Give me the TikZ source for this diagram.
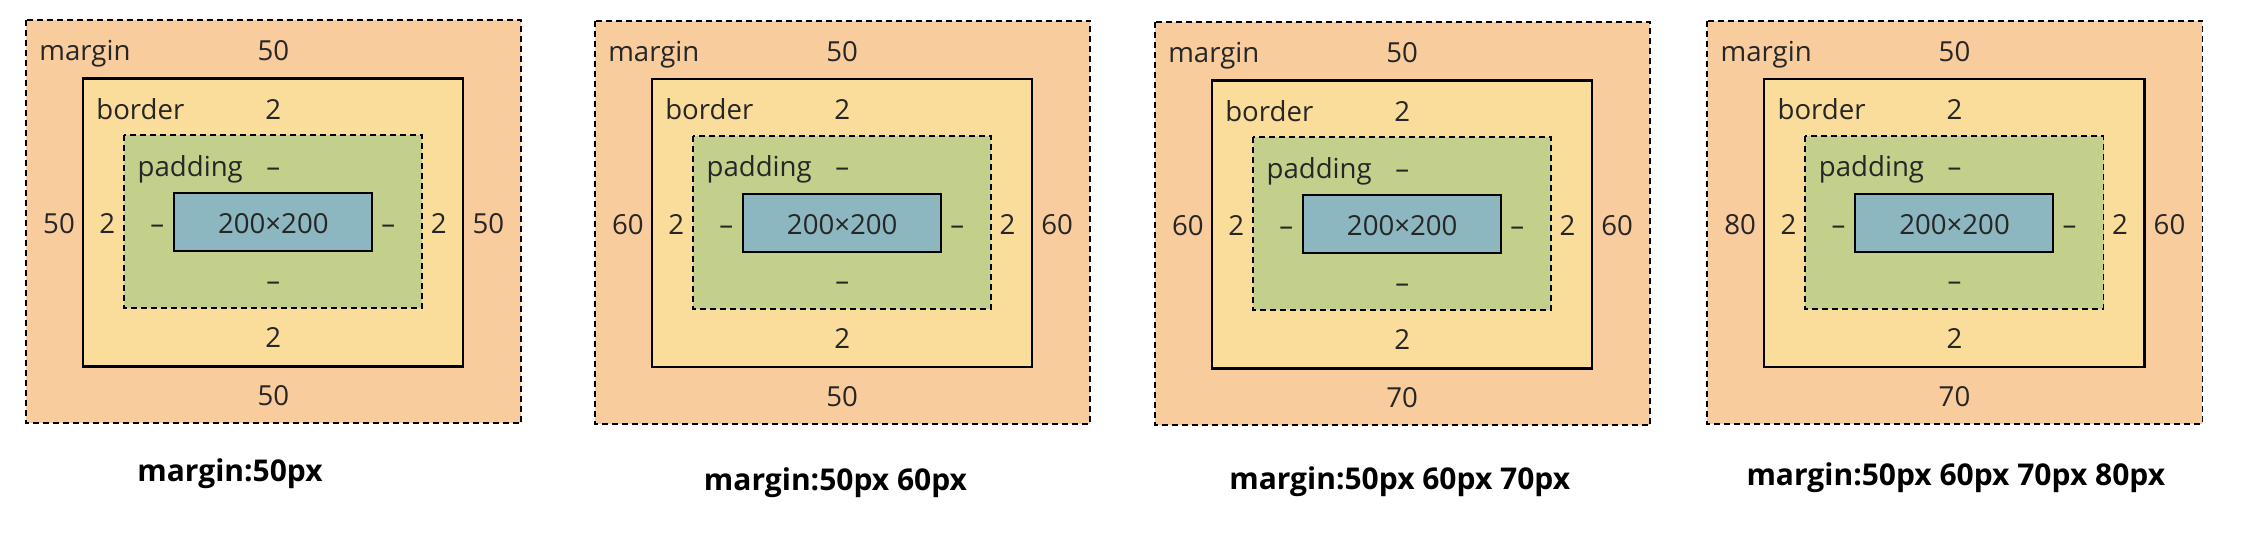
\documentclass[tikz,border=0pt]{standalone}
\usepackage{fontspec}
\setmainfont{Open Sans}
\usetikzlibrary{positioning}
\definecolor{marginfill}{HTML}{F8CC9D}
\definecolor{borderfill}{HTML}{FBDD9B}
\definecolor{paddingfill}{HTML}{C3D08B}
\definecolor{contentfill}{HTML}{8CB6C0}
\tikzset{
  marginbox/.style={fill=marginfill,draw=black,line width=0.9pt,
    dash pattern=on 3pt off 2pt},
  borderbox/.style={fill=borderfill,draw=black,line width=1.1pt},
  paddingbox/.style={fill=paddingfill,draw=black,line width=0.9pt,
    dash pattern=on 3pt off 2pt},
  contentbox/.style={fill=contentfill,draw=black,line width=1.1pt},
  boxlbl/.style={font=\fontsize{13.8}{16}\selectfont,text=black!85,
    inner sep=0pt,anchor=base},
  namelbl/.style={boxlbl,anchor=base west},
  caplbl/.style={font=\fontsize{15}{18}\selectfont\bfseries,inner sep=0pt,
    anchor=base},
}
\begin{document}
\begin{tikzpicture}[x=0.5pt,y=-0.5pt]
  \useasboundingbox (0,0) rectangle (2265,547);
  \foreach \p/\ox/\oy/\ml/\mr/\mb/\cx/\cy/\cap in {
      1/25.7/20/50/50/50/230/481/{margin:50px},
      2/594.6/20.9/60/60/50/835.5/490/{margin:50px 60px},
      3/1154.6/22/60/60/70/1399.7/489.3/{margin:50px 60px 70px},
      4/1706.9/20.9/80/60/70/1955.8/485/{margin:50px 60px 70px 80px}}{
    \begin{scope}[shift={(\ox,\oy)}]
      \draw[marginbox] (0,0) rectangle (495.5,403);
      \draw[borderbox] (57,58.4) rectangle (437.6,346.4);
      \draw[paddingbox] (98.3,115) rectangle (396.6,287.8);
      \draw[contentbox] (148.3,172.7) rectangle (346.3,231.3);
      % top rows
      \node[namelbl] (mname\p) at (13.3,40.5) {margin};
      \node[boxlbl] (mtop\p) at (247.6,40.5) {50};
      \node[namelbl] (bname\p) at (70.3,99) {border};
      \node[boxlbl] (btop\p) at (247.6,99) {2};
      \node[namelbl] (pname\p) at (111.6,156) {padding};
      \node[boxlbl] (ptop\p) at (247.6,156) {–};
      % middle row
      \node[boxlbl] (mleft\p) at (33.3,213.3) {\ml};
      \node[boxlbl] (bleft\p) at (81.6,213.3) {2};
      \node[boxlbl] (pleft\p) at (131.6,213.3) {–};
      \node[boxlbl] (cont\p) at (247.6,213.3) {200×200};
      \node[boxlbl] (pright\p) at (362.6,213.3) {–};
      \node[boxlbl] (bright\p) at (413,213.3) {2};
      \node[boxlbl] (mright\p) at (462.6,213.3) {\mr};
      % bottom rows
      \node[boxlbl] (pbot\p) at (247.6,270) {–};
      \node[boxlbl] (bbot\p) at (247.6,327.6) {2};
      \node[boxlbl] (mbot\p) at (247.6,385.5) {\mb};
    \end{scope}
    \node[caplbl] (cap\p) at (\cx,\cy) {\cap};
  }
\end{tikzpicture}
\end{document}
